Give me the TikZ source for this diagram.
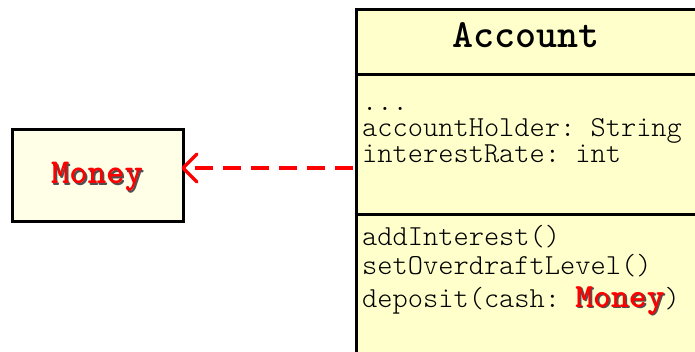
\documentclass[tikz,border=0pt]{standalone}
\usepackage{fontspec}
\setmonofont{lmmonolt10-regular}[Extension=.otf, BoldFont=lmmonolt10-bold]
\usetikzlibrary{arrows.meta}
\definecolor{accfill}{RGB}{255,255,204}
\definecolor{monfill}{RGB}{255,255,232}
\definecolor{umlred}{RGB}{255,0,0}
\definecolor{shadowgray}{RGB}{80,80,80}
\newcommand{\shadowed}[1]{\makebox[0pt][l]{\hspace{1.6pt}\raisebox{-1.6pt}{\color{shadowgray}#1}}{\color{umlred}#1}}
\tikzset{
  box/.style={draw=black, line width=3pt},
  member/.style={anchor=base west, inner sep=0pt,
    font=\fontsize{29}{29}\selectfont\ttfamily},
  dep/.style={draw=umlred, line width=3.5pt, dash pattern=on 18pt off 10pt},
  openhead/.style={draw=umlred, line width=3.5pt, line cap=round, line join=round}
}
\begin{document}
\begin{tikzpicture}[x=1pt,y=-1pt]
\useasboundingbox (0,0) rectangle (695,352);
\clip (0,0) rectangle (695,352);
% Account class
\node[box, fill=accfill, anchor=north west, minimum width=380pt, minimum height=380pt, inner sep=0pt] (acc) at (354.5,8) {};
\coordinate (d1) at (354.5,75);
\coordinate (d2) at (354.5,215);
\draw[line width=3pt] (d1) -- (720,75);
\draw[line width=3pt] (d2) -- (720,215);
\node[anchor=base, inner sep=0pt, font=\fontsize{40}{40}\selectfont\ttfamily\bfseries] (title) at (526,48) {Account};
\node[member] (a0) at (362,111) {...};
\node[member] (a1) at (362,137) {accountHolder: String};
\node[member] (a2) at (362,163) {interestRate: int};
\node[member] (m1) at (362,246) {addInterest()};
\node[member] (m2) at (362,274) {setOverdraftLevel()};
\node[member] (m3) at (362,307) {deposit(cash: {\fontsize{34}{34}\selectfont\bfseries\shadowed{Money}})};
% Money class
\node[box, fill=monfill, minimum width=171pt, minimum height=92pt, inner sep=0pt] (money) at (97.5,176) {};
\node[anchor=base, inner sep=0pt, font=\fontsize{35}{35}\selectfont\ttfamily\bfseries] (mlabel) at (97,184) {\shadowed{Money}};
% dependency
\coordinate (src) at (353,168);
\coordinate (tip) at (183,168);
\draw[dep] (src) -- (tip);
\draw[openhead] ([xshift=14pt,yshift=14pt]tip) -- (tip) -- ([xshift=14pt,yshift=-14pt]tip);
\end{tikzpicture}
\end{document}
